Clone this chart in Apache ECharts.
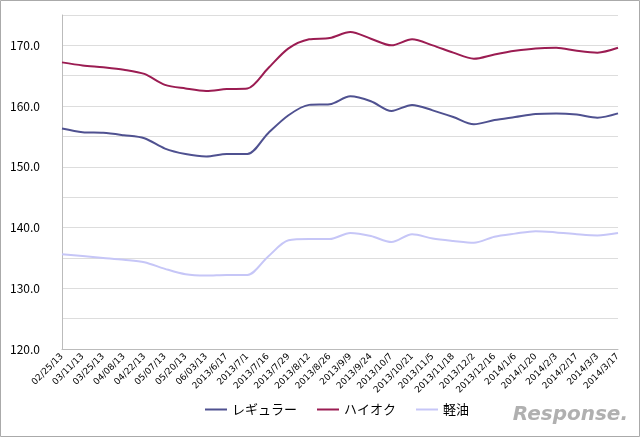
<!DOCTYPE html>
<html>
<head>
<meta charset="utf-8">
<script src="https://cdn.jsdelivr.net/npm/echarts@6/dist/echarts.min.js"></script>
<style>
html, body { margin: 0; padding: 0; background: #fff; }
#chart { width: 640px; height: 437px; }
</style>
</head>
<body>
<div id="chart"></div>
<script>
var dates = ['02/25/13', '03/11/13', '03/25/13', '04/08/13', '04/22/13', '05/07/13', '05/20/13', '06/03/13',
    '2013/6/17', '2013/7/1', '2013/7/16', '2013/7/29', '2013/8/12', '2013/8/26', '2013/9/9', '2013/9/24',
    '2013/10/7', '2013/10/21', '2013/11/5', '2013/11/18', '2013/12/2', '2013/12/16', '2014/1/6', '2014/1/20',
    '2014/2/3', '2014/2/17', '2014/3/3', '2014/3/17'];

var regular = [156.3, 155.7, 155.6, 155.2, 154.7, 153.0, 152.1, 151.7, 152.1, 152.1, 155.5, 158.5, 160.2, 160.3,
    161.6, 160.8, 159.2, 160.2, 159.3, 158.2, 157.0, 157.7, 158.2, 158.7, 158.8, 158.6, 158.1, 158.8];
var highOctane = [167.2, 166.7, 166.4, 166.0, 165.3, 163.5, 162.9, 162.5, 162.8, 162.9, 166.2, 169.5, 171.0, 171.2,
    172.2, 171.1, 170.0, 171.0, 170.0, 168.8, 167.8, 168.5, 169.1, 169.5, 169.6, 169.1, 168.8, 169.6];
var diesel = [135.6, 135.3, 135.0, 134.7, 134.3, 133.2, 132.3, 132.1, 132.2, 132.2, 135.2, 137.9, 138.1, 138.1,
    139.1, 138.6, 137.6, 138.9, 138.2, 137.8, 137.5, 138.5, 139.0, 139.4, 139.2, 138.9, 138.7, 139.1];

var chart = echarts.init(document.getElementById('chart'));

function line(name, data, color) {
    return {
        name: name, type: 'line', data: data, symbol: 'none', smooth: 0.3,
        lineStyle: { color: color, width: 2 }, itemStyle: { color: color }
    };
}

chart.setOption({
    animation: false,
    textStyle: { fontFamily: '"Noto Sans CJK JP", sans-serif' },
    graphic: [
        { type: 'rect', shape: { x: 0.5, y: 0.5, width: 639, height: 436 },
          style: { fill: 'none', stroke: '#aaa', lineWidth: 1 } },
        { type: 'text', right: 12, bottom: 12,
          style: { text: 'Response.', fill: '#b0b0b0', font: 'italic bold 20px "DejaVu Sans"' } }
    ],
    legend: {
        bottom: 16, left: 200, itemWidth: 22, itemHeight: 2, itemGap: 20,
        icon: 'rect',
        textStyle: { fontSize: 13, color: '#000' },
        data: ['レギュラー', 'ハイオク', '軽油']
    },
    grid: { left: 62, right: 22, top: 15, bottom: 88 },
    xAxis: {
        type: 'category', data: dates, boundaryGap: false,
        axisTick: { show: false },
        axisLine: { lineStyle: { color: '#bbb' } },
        axisLabel: { rotate: 45, interval: 0, fontSize: 9, color: '#000', margin: 6, fontFamily: 'DejaVu Sans' }
    },
    yAxis: {
        type: 'value', min: 120, max: 175, interval: 5,
        axisLine: { show: true, lineStyle: { color: '#bbb' } },
        splitLine: { lineStyle: { color: '#ddd' } },
        axisLabel: {
            fontSize: 12, color: '#000', margin: 22,
            formatter: function (v) { return v % 10 === 0 ? v.toFixed(1) : ''; }
        }
    },
    series: [
        line('レギュラー', regular, '#4f5190'),
        line('ハイオク', highOctane, '#9b1c52'),
        line('軽油', diesel, '#c6c6f7')
    ]
});
</script>
</body>
</html>
